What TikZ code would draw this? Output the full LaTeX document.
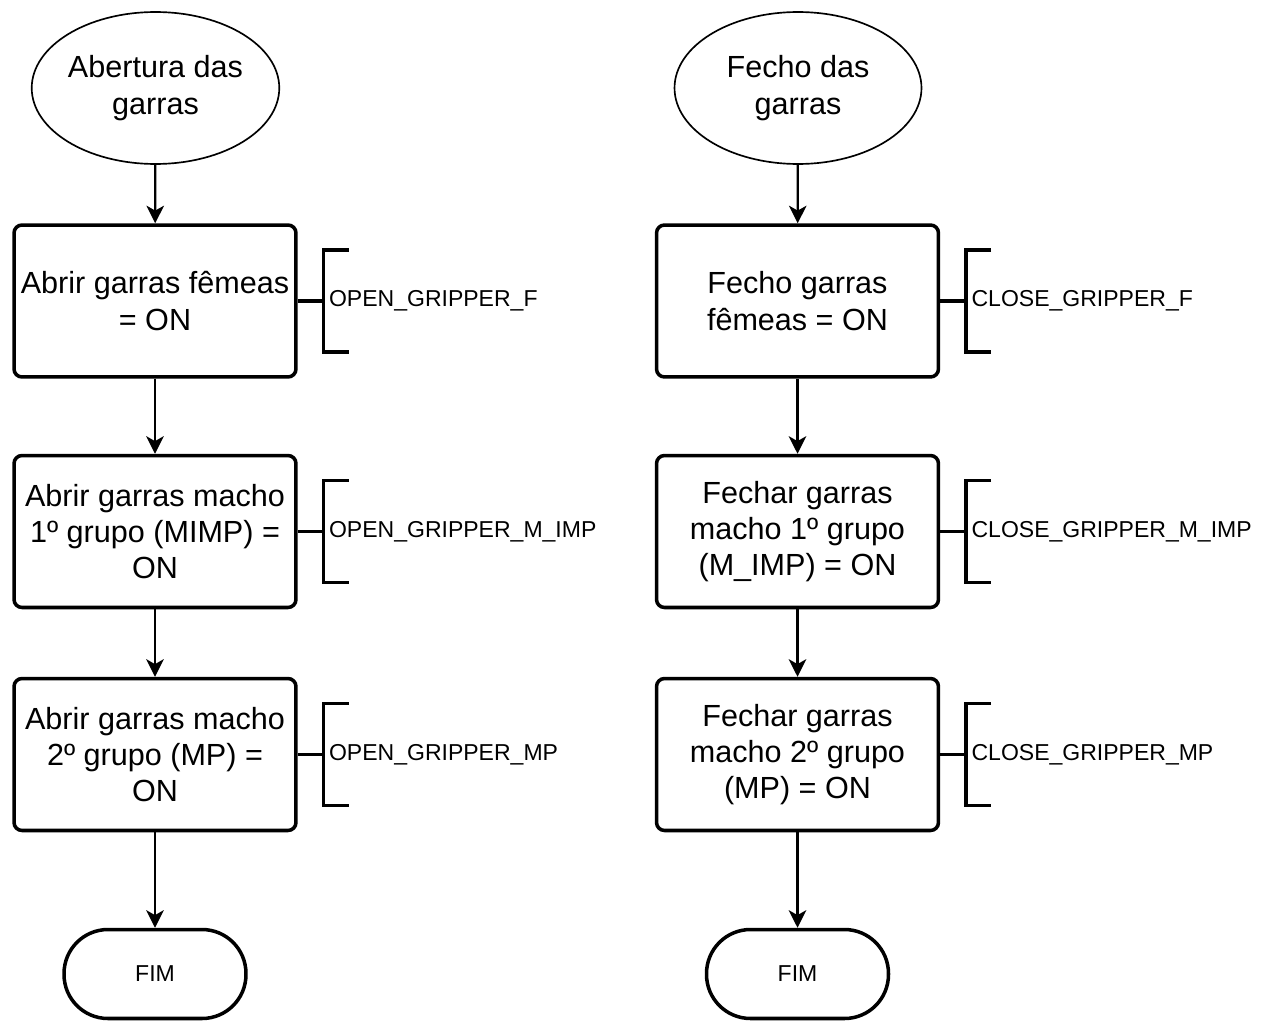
\documentclass[tikz,border=0pt]{standalone}
\usepackage{fontspec}
\setmainfont{Liberation Sans}
\usetikzlibrary{arrows.meta,positioning,shapes.geometric}

\begin{document}
\begin{tikzpicture}[x=0.02cm,y=-0.02cm,>={Stealth[length=10pt,width=10pt,inset=2.8pt]},
    inicio/.style={draw,ellipse,line width=0.95pt,minimum width=4.94cm,minimum height=3.04cm,
      inner sep=0pt,align=center,font=\fontsize{17.4pt}{20.6pt}\selectfont},
    passo/.style={draw,line width=2pt,rounded corners=0.16cm,minimum width=5.64cm,
      minimum height=3.04cm,inner sep=0pt,align=center,font=\fontsize{17.4pt}{20.6pt}\selectfont},
    fim/.style={draw,line width=2pt,rounded corners=0.88cm,minimum width=3.64cm,
      minimum height=1.78cm,font=\fontsize{13.1pt}{15.7pt}\selectfont},
    fluxo/.style={->,line width=1.25pt},
    chave/.style={line width=2pt,line cap=butt},
    sinal/.style={anchor=west,inner sep=0pt,font=\fontsize{13.1pt}{15.7pt}\selectfont}]
  \useasboundingbox (0,0) rectangle (1267,1021);
  % abertura
  \node[inicio] (a0) at (155.5,88)  {Abertura das\\garras};
  \node[passo]  (a1) at (155,301)   {Abrir garras fêmeas\\= ON};
  \node[passo]  (a2) at (155,531.5) {Abrir garras macho\\1º grupo (MIMP) =\\ON};
  \node[passo]  (a3) at (155,754.5) {Abrir garras macho\\2º grupo (MP) =\\ON};
  \node[fim]    (a4) at (155,974)   {FIM};
  % fecho
  \node[inicio] (f0) at (798,88)    {Fecho das\\garras};
  \node[passo]  (f1) at (797.5,301)   {Fecho garras\\fêmeas = ON};
  \node[passo]  (f2) at (797.5,531.5) {Fechar garras\\macho 1º grupo\\(M\_IMP) = ON};
  \node[passo]  (f3) at (797.5,754.5) {Fechar garras\\macho 2º grupo\\(MP) = ON};
  \node[fim]    (f4) at (797.5,974)   {FIM};
  \foreach \c in {a,f}{
    \foreach \i [count=\j] in {0,...,3}{ \draw[fluxo] (\c\i) -- (\c\j); }
  }
  \foreach \b/\t in {a1/OPEN\_GRIPPER\_F, a2/OPEN\_GRIPPER\_M\_IMP, a3/OPEN\_GRIPPER\_MP,
        f1/CLOSE\_GRIPPER\_F, f2/CLOSE\_GRIPPER\_M\_IMP, f3/CLOSE\_GRIPPER\_MP}{
    \draw[chave] (\b.east) -- ++(26,0) coordinate (\b-k)
      ++(25,-51) -- ++(-25,0) -- ++(0,102) -- ++(25,0);
    \node[sinal] (\b-s) at ([xshift=0.1cm]\b-k) {\t};
  }
\end{tikzpicture}
\end{document}
